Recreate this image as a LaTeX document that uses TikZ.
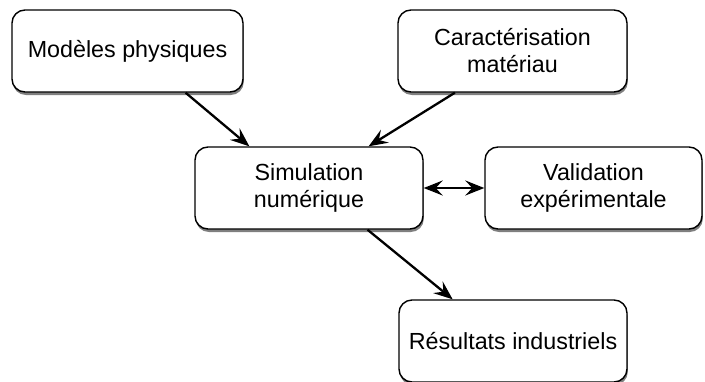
\documentclass[tikz,border=0pt]{standalone}
\usepackage{fontspec}
\setmainfont{Liberation Sans}
\usetikzlibrary{arrows.meta,shadows,calc}
\begin{document}
\begin{tikzpicture}[x=1pt,y=-1pt,
  box/.style={draw=black, line width=1.4pt, rounded corners=13pt, fill=white,
    align=center, inner sep=0pt, minimum height=82pt,
    font=\fontsize{23.3}{27}\selectfont,
    drop shadow={shadow xshift=0.8pt, shadow yshift=-3pt, opacity=0.5, fill=black}},
  conn/.style={line width=2.3pt, -{Stealth[length=19pt,width=15pt,inset=7pt]}},
  dconn/.style={line width=2.3pt, {Stealth[length=19pt,width=15pt,inset=7pt]}-{Stealth[length=19pt,width=15pt,inset=7pt]}}]
\useasboundingbox (0,0) rectangle (705,381);
\node[box, minimum width=231pt] (b1) at (127.5,51) {Modèles physiques};
\node[box, minimum width=229pt] (b2) at (512.5,51) {Caractérisation\\matériau};
\node[box, minimum width=228pt] (b3) at (309,188) {Simulation\\numérique};
\node[box, minimum width=217pt] (b4) at (593.5,188) {Validation\\expérimentale};
\node[box, minimum width=228pt] (b5) at (513,341) {Résultats industriels};
\draw[conn] ($(b1.south west)!0.75!(b1.south east)$) -- ($(b3.north west)!0.24!(b3.north east)$);
\draw[conn] ($(b2.south west)!0.25!(b2.south east)$) -- ($(b3.north west)!0.76!(b3.north east)$);
\draw[dconn] (b3.east) -- (b4.west);
\draw[conn] ($(b3.south west)!0.755!(b3.south east)$) -- ($(b5.north west)!0.237!(b5.north east)$);
\end{tikzpicture}
\end{document}
